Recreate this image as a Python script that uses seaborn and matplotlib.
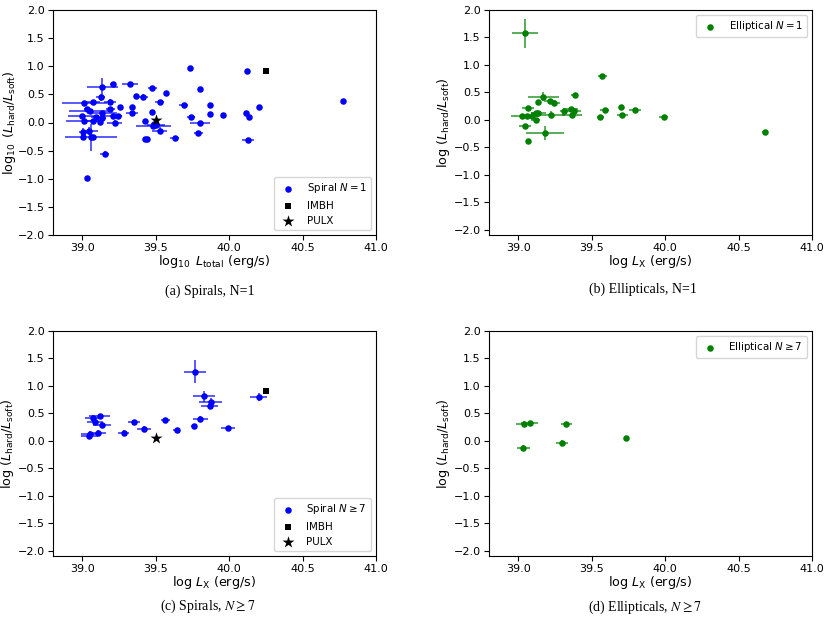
import matplotlib
matplotlib.use("Agg")
import matplotlib.pyplot as plt
import seaborn as sns
import numpy as np

# ---------------- data ----------------
# (a) Spirals, N=1
sp1_x = [39.03, 39.136, 39.206, 39.324, 39.476, 39.567, 39.365, 39.41, 39.528, 39.254,
         39.34, 39.34, 39.474, 39.43, 39.49, 39.483, 39.50, 39.526, 39.437, 39.426,
         39.22, 39.21, 39.19, 39.19, 39.125, 39.07, 39.014, 39.03, 39.05, 39.09,
         39.133, 39.133, 39.12, 39.075, 39.01, 39.0, 39.004, 39.048, 39.004, 39.056,
         39.075, 39.152, 39.243, 39.63, 39.69, 39.73, 39.74, 39.80, 39.80, 39.79,
         39.87, 39.87, 39.96, 40.118, 40.116, 40.138, 40.127, 40.20, 40.773]
sp1_y = [-0.99, 0.63, 0.686, 0.686, 0.62, 0.52, 0.467, 0.45, 0.365, 0.28,
         0.276, 0.164, 0.187, 0.03, -0.02, -0.063, -0.04, -0.146, -0.29, -0.29,
         0.0, 0.12, 0.37, 0.235, 0.45, 0.365, 0.342, 0.235, 0.20, 0.09,
         0.164, 0.087, 0.003, 0.02, 0.026, 0.12, -0.164, -0.146, -0.25, -0.264,
         -0.264, -0.56, 0.116, -0.28, 0.32, 0.97, 0.09, 0.60, -0.01, -0.18,
         0.31, 0.15, 0.13, 0.913, 0.164, 0.098, -0.307, 0.27, 0.378]
sp1_xerr = [0, 0.107, 0.02, 0.057, 0.03, 0, 0.01, 0.04, 0.03, 0,
            0.01, 0.04, 0.01, 0, 0.02, 0.12, 0.06, 0.05, 0.01, 0,
            0.05, 0.06, 0.04, 0.03, 0.03, 0.05, 0.155, 0.02, 0.14, 0.03,
            0.10, 0.03, 0, 0.05, 0.12, 0.10, 0.03, 0.06, 0, 0.177,
            0.02, 0.03, 0.03, 0.03, 0.03, 0, 0.03, 0, 0.07, 0.03,
            0, 0, 0, 0, 0, 0.01, 0.04, 0.01, 0]
sp1_yerr = [0, 0.16, 0.02, 0.02, 0.03, 0, 0.01, 0.05, 0.03, 0,
            0.01, 0.02, 0.01, 0, 0.02, 0.02, 0.04, 0.06, 0.01, 0,
            0.05, 0.02, 0.04, 0.03, 0.06, 0.04, 0.03, 0.02, 0.02, 0.03,
            0.03, 0.04, 0, 0.02, 0.03, 0.02, 0.06, 0.07, 0, 0.24,
            0.02, 0.06, 0.02, 0.01, 0.01, 0, 0.03, 0, 0.02, 0.02,
            0, 0, 0, 0, 0, 0.01, 0.02, 0.01, 0]

# (b) Ellipticals, N=1
el1_x = [39.045, 39.573, 39.384, 39.17, 39.216, 39.243, 39.132, 39.068, 39.023, 39.059,
         39.093, 39.118, 39.136, 39.118, 39.225, 39.045, 39.064, 39.184, 39.311, 39.357,
         39.38, 39.366, 39.559, 39.589, 39.702, 39.709, 39.793, 39.989, 40.682]
el1_y = [1.574, 0.80, 0.454, 0.423, 0.35, 0.307, 0.32, 0.21, 0.076, 0.076,
         0.064, 0.13, 0.13, -0.003, 0.094, -0.113, -0.393, -0.24, 0.161, 0.19,
         0.16, 0.094, 0.058, 0.18, 0.228, 0.088, 0.186, 0.058, -0.216]
el1_xerr = [0.09, 0.03, 0.025, 0.107, 0.04, 0.04, 0, 0.04, 0.07, 0.03,
            0.05, 0.03, 0.05, 0.03, 0.09, 0.04, 0, 0.13, 0.03, 0.05,
            0.05, 0.07, 0.025, 0.03, 0, 0.04, 0.04, 0.03, 0.02]
el1_yerr = [0.27, 0.02, 0.02, 0.08, 0.03, 0.03, 0, 0.04, 0.02, 0.02,
            0.03, 0.02, 0.03, 0.04, 0.07, 0.04, 0, 0.13, 0.02, 0.03,
            0.03, 0.03, 0.02, 0.02, 0, 0.02, 0.02, 0.02, 0.02]

# (c) Spirals, N >= 7
sp7_x = [39.769, 39.828, 39.873, 39.866, 40.20, 39.803, 39.76, 39.991, 39.642, 39.565,
         39.42, 39.354, 39.281, 39.134, 39.118, 39.075, 39.084, 39.109, 39.05, 39.048]
sp7_y = [1.255, 0.815, 0.705, 0.626, 0.797, 0.394, 0.266, 0.229, 0.192, 0.37,
         0.223, 0.333, 0.15, 0.284, 0.455, 0.41, 0.35, 0.143, 0.12, 0.09]
sp7_xerr = [0.075, 0.076, 0.078, 0.06, 0.057, 0.052, 0.02, 0.05, 0.025, 0.03,
            0.045, 0.04, 0.04, 0.06, 0.07, 0.06, 0.055, 0.05, 0.06, 0.06]
sp7_yerr = [0.21, 0.10, 0.07, 0.05, 0.07, 0.05, 0.02, 0.03, 0.02, 0.02,
            0.04, 0.03, 0.04, 0.06, 0.04, 0.06, 0.05, 0.05, 0.05, 0.05]

# (d) Ellipticals, N >= 7
el7_x = [39.041, 39.077, 39.327, 39.034, 39.298, 39.736]
el7_y = [0.314, 0.32, 0.308, -0.13, -0.04, 0.046]
el7_xerr = [0.06, 0.057, 0.035, 0.045, 0.04, 0.015]
el7_yerr = [0.05, 0.04, 0.02, 0.05, 0.05, 0.01]

# reference objects
imbh_x, imbh_y = [40.25], [0.91]
pulx_x, pulx_y = [39.5], [0.05]

x_ticks = [39.0, 39.5, 40.0, 40.5, 41.0]
y_ticks = [-2.0, -1.5, -1.0, -0.5, 0.0, 0.5, 1.0, 1.5, 2.0]

captions = ["(a) Spirals, N=1", "(b) Ellipticals, N=1",
            r"(c) Spirals, $N \geq 7$", r"(d) Ellipticals, $N \geq 7$"]

# ---------------- figure ----------------
BLUE = "#0000ff"
GREEN = "#008000"
fig = plt.figure(figsize=(8.31, 6.20), dpi=100)

W = 323 / 831
H = 225 / 620
positions = [
    (53 / 831, 1 - 235 / 620, W, H),
    (489 / 831, 1 - 235 / 620, W, H),
    (53 / 831, 1 - 556 / 620, W, H),
    (489 / 831, 1 - 556 / 620, W, H),
]
axes = [fig.add_axes(p) for p in positions]

panels = [
    (sp1_x, sp1_y, sp1_xerr, sp1_yerr, BLUE, r"Spiral $N = 1$", True, "lower right"),
    (el1_x, el1_y, el1_xerr, el1_yerr, GREEN, r"Elliptical $N = 1$", False, "upper right"),
    (sp7_x, sp7_y, sp7_xerr, sp7_yerr, BLUE, r"Spiral $N \geq 7$", True, "lower right"),
    (el7_x, el7_y, el7_xerr, el7_yerr, GREEN, r"Elliptical $N \geq 7$", False, "upper right"),
]

for i, (ax, (x, y, xe, ye, col, lab, refs, loc)) in enumerate(zip(axes, panels)):
    ax.errorbar(x, y, xerr=xe, yerr=ye, fmt="none", ecolor=col,
                elinewidth=1.3, alpha=0.7, capsize=0, zorder=1)
    sns.scatterplot(x=x, y=y, color=col, s=22, linewidth=0, label=lab,
                    ax=ax, zorder=3)
    if refs:
        sns.scatterplot(x=imbh_x, y=imbh_y, color="black", marker="s", s=22,
                        linewidth=0, label="IMBH", ax=ax, zorder=4)
        sns.scatterplot(x=pulx_x, y=pulx_y, color="black", marker="*", s=80,
                        linewidth=0, label="PULX", ax=ax, zorder=4)
    ax.set_xlim(38.8, 41.0)
    ax.set_ylim(-2.0 if i == 0 else -2.1, 2.0)
    ax.set_xticks(x_ticks)
    ax.set_yticks(y_ticks)
    ax.tick_params(labelsize=8, pad=2.5)
    if i == 0:
        ax.set_xlabel(r"$\log_{10}$ $L_{\rm total}$ (erg/s)", fontsize=9.2, labelpad=0)
        ax.set_ylabel(r"$\log_{10}$ $(L_{\rm hard}/L_{\rm soft})$", fontsize=9.2, labelpad=0)
    else:
        ax.set_xlabel(r"log $L_{\rm X}$ (erg/s)", fontsize=9.2, labelpad=0)
        ax.set_ylabel(r"log $(L_{\rm hard}/L_{\rm soft})$", fontsize=9.2, labelpad=1)
    ax.legend(loc=loc, fontsize=7.4)

cap_pos = [(210, 291), (643, 289), (208, 606), (645, 607)]
for (cx, cy), txt in zip(cap_pos, captions):
    fig.text(cx / 831, 1 - cy / 620, txt, ha="center", va="center",
             fontsize=10, family="Liberation Serif", math_fontfamily="stix")

fig.savefig("out.png", dpi=100)
